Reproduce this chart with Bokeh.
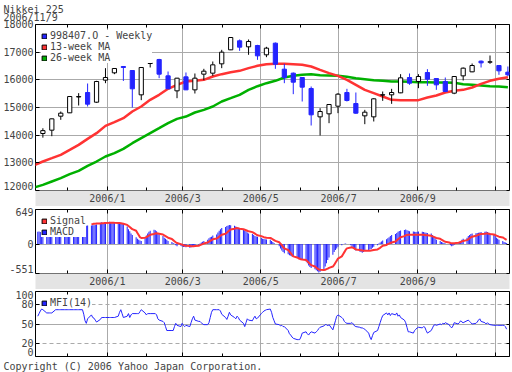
import pandas as pd
from bokeh.plotting import figure
from bokeh.layouts import column
from bokeh.models import (FixedTicker, Range1d, Legend, LegendItem, Title, CustomJSTickFormatter,
                          LinearAxis, Grid, GlobalInlineStyleSheet, ColumnDataSource)
from bokeh.embed import file_html
from bokeh.resources import INLINE

# ---------------- data ----------------
week_start = "2005-11-11"   # first weekly candle (week ending Friday)
candle_open = [14060, 14180, 14686, 14807, 15380, 15542, 15192, 15988, 16253, 16482,
               16337, 15458, 16590, 16735, 16144, 15602, 16108, 15638, 16205, 16241,
               16578, 17084, 17410, 17193, 17241, 16904, 17325, 16385, 16241, 16084,
               15687, 14662, 14771, 15048, 15542, 15144, 14698, 14662, 15450, 15458,
               15530, 16084, 15940, 16265, 16048, 15940, 15518, 16144, 16289, 16675,
               16640, 16518, 16277]
candle_high = [14250, 14600, 14855, 15410, 15518, 15867, 15964, 16422, 16422, 16490,
               16345, 16460, 16723, 16759, 16301, 16070, 16265, 16229, 16398, 16663,
               17084, 17540, 17458, 17458, 17265, 17193, 17349, 16578, 16265, 16090,
               15759, 14976, 15115, 15518, 15675, 15542, 14915, 15337, 15578, 15675,
               16205, 16229, 16205, 16385, 16055, 16084, 16125, 16446, 16590, 16699,
               16879, 16525, 16482]
candle_low = [13910, 13963, 14554, 14800, 15072, 15036, 15168, 15879, 16205, 15960,
              15000, 15265, 16446, 16060, 15670, 15337, 15630, 15506, 15988, 16144,
              16422, 17075, 17048, 16904, 16723, 16819, 16398, 15879, 15482, 15217,
              14349, 13988, 14433, 14795, 15217, 14771, 14397, 14494, 15241, 15132,
              15518, 15819, 15699, 15783, 15638, 15554, 15482, 15976, 16277, 16446,
              16578, 16181, 16132]
candle_close = [14164, 14590, 14795, 15397, 15395, 15120, 15940, 16084, 16410, 16446,
                15675, 16446, 16605, 16205, 15675, 16060, 15638, 16060, 16313, 16542,
                17000, 17530, 17181, 17386, 16867, 17145, 16566, 16084, 15915, 15735,
                14735, 14855, 15108, 15482, 15253, 14795, 14831, 15313, 15460, 15542,
                16072, 15879, 16120, 16024, 15819, 15578, 16120, 16422, 16518, 16614,
                16650, 16325, 16181]

ma_start = "2005-11-04"
ma13 = [12910, 13048, 13168, 13289, 13469, 13650, 13867, 14072, 14337, 14469, 14614,
        14855, 15036, 15277, 15458, 15675, 15819, 15940, 15964, 16000, 16120,
        16205, 16277, 16325, 16422, 16506, 16566, 16578, 16578, 16566, 16542,
        16482, 16361, 16241, 16144, 16000, 15819, 15638, 15518, 15397, 15277,
        15265, 15265, 15265, 15361, 15433, 15542, 15602, 15638, 15723, 15855,
        15964, 16036, 16096]
ma26 = [12108, 12204, 12325, 12445, 12590, 12710, 12891, 13048, 13228, 13349, 13505,
        13710, 13891, 14072, 14252, 14433, 14590, 14674, 14819, 14915, 15036,
        15217, 15337, 15458, 15638, 15770, 15879, 15964, 16084, 16144, 16181,
        16205, 16169, 16157, 16144, 16108, 16060, 16024, 15988, 15964, 15940,
        15940, 15928, 15915, 15915, 15903, 15903, 15891, 15843, 15819, 15795,
        15771, 15759, 15735]

day_first, day_last = "2005-11-07", "2006-11-09"
macd = [230, 235, 225, 215, 210, 205, 210, 215, 212, 210,
        215, 220, 210, 205, 212, 218, 222, 215, 210, 220,
        225, 300, 330, 340, 345, 345, 340, 343, 345, 350,
        350, 355, 352, 360, 370, 400, 410, 395, 405, 415,
        420, 410, 415, 405, 400, 405, 395, 400, 390, 380,
        330, 280, 240, 200, 170, 130, 100, 80, 70, 60,
        110, 160, 200, 230, 250, 270, 260, 240, 210, 180,
        150, 120, 100, 80, 60, 40, 20, 5, -20, -40,
        -30, -45, -55, -50, -60, -70, -60, -45, -30, -20,
        -10, 10, 30, 45, 60, 80, 110, 130, 140, 160,
        180, 220, 250, 280, 300, 320, 340, 350, 360, 355,
        345, 330, 320, 300, 290, 270, 250, 240, 220, 200,
        190, 170, 150, 145, 140, 120, 100, 95, 90, 85,
        80, 60, 40, 20, 0, -40, -80, -120, -150, -170,
        -190, -210, -220, -230, -240, -250, -260, -270, -290, -300,
        -320, -360, -400, -430, -450, -470, -490, -510, -530, -520,
        -480, -420, -360, -300, -250, -200, -150, -110, -80, -50,
        -20, 0, 5, 10, 0, -20, -50, -80, -100, -120,
        -140, -150, -160, -150, -130, -120, -100, -90, -70, -50,
        -20, 10, 30, 50, 70, 90, 110, 130, 150, 170,
        190, 210, 230, 245, 255, 265, 275, 260, 250, 240,
        235, 230, 225, 230, 235, 230, 225, 220, 215, 210,
        200, 170, 140, 110, 80, 60, 40, 30, 20, 10,
        0, -20, -40, -30, -10, 20, 40, 60, 80, 100,
        120, 150, 170, 190, 200, 205, 210, 215, 220, 225,
        230, 235, 225, 215, 200, 180, 150, 120, 100, 80,
        60, 40, 30, 20]
signal_first = "2005-12-19"
signal = [374, 376, 380, 383, 385, 388, 390, 393, 395, 398,
          400, 401, 402, 402, 400, 398, 395, 392, 388, 383,
          360, 340, 320, 300, 280, 250, 210, 170, 130, 115,
          120, 130, 145, 160, 175, 190, 200, 205, 200, 195,
          180, 165, 150, 135, 120, 95, 75, 55, 35, 20,
          0, -10, -20, -25, -30, -35, -40, -42, -40, -35,
          -30, -20, -10, 0, 10, 30, 45, 60, 75, 90,
          105, 120, 140, 160, 175, 195, 215, 235, 255, 275,
          290, 298, 300, 296, 290, 280, 270, 260, 250, 240,
          225, 210, 195, 180, 165, 150, 140, 130, 125, 120,
          115, 105, 90, 75, 60, 35, 10, -20, -50, -80,
          -110, -140, -170, -200, -230, -250, -265, -275, -285, -290,
          -300, -320, -345, -370, -395, -420, -440, -460, -475, -482,
          -485, -480, -470, -460, -445, -420, -390, -350, -310, -270,
          -230, -190, -150, -110, -80, -65, -60, -70, -85, -100,
          -110, -115, -120, -125, -125, -126, -124, -120, -115, -110,
          -100, -85, -70, -50, -30, -15, 0, 10, 20, 30,
          50, 70, 90, 110, 130, 150, 165, 170, 174, 175,
          176, 177, 177, 176, 175, 175, 174, 172, 168, 165,
          155, 145, 135, 125, 115, 100, 85, 70, 55, 45,
          30, 20, 15, 15, 18, 25, 30, 40, 50, 60,
          75, 90, 110, 125, 140, 155, 165, 175, 185, 190,
          195, 198, 200, 195, 190, 180, 170, 160, 150, 140,
          125, 110, 95, 80]
mfi = [62, 66, 70, 73, 72, 67, 67, 67, 67, 67,
       72, 72, 72, 72, 72, 72, 72, 72, 72, 72,
       72, 72, 72, 72, 72, 72, 65, 55, 51, 58,
       64, 60, 59, 56, 53, 57, 60, 60, 60, 60,
       60, 60, 60, 60, 60, 62, 68, 72, 66, 60,
       62, 66, 60, 64, 66, 66, 66, 66, 69, 72,
       67, 64, 66, 66, 66, 66, 66, 64, 58, 56,
       54, 52, 46, 40, 40, 40, 40, 46, 51, 48,
       46, 51, 48, 46, 48, 46, 52, 58, 62, 56,
       54, 54, 52, 50, 49, 49, 52, 60, 68, 72,
       72, 72, 72, 70, 65, 60, 57, 62, 68, 64,
       60, 58, 62, 60, 56, 51, 46, 52, 58, 56,
       55, 59, 62, 58, 59, 66, 68, 70, 71, 72,
       73, 68, 60, 55, 50, 49, 47, 48, 46, 46,
       40, 35, 33, 30, 28, 26, 26, 26, 30, 36,
       38, 35, 33, 36, 38, 36, 38, 40, 43, 45,
       47, 49, 49, 47, 49, 41, 48, 55, 62, 64,
       60, 58, 54, 52, 51, 51, 52, 50, 47, 46,
       45, 44, 44, 43, 42, 36, 30, 26, 32, 37,
       40, 46, 52, 58, 63, 67, 64, 67, 63, 66,
       64, 67, 62, 64, 60, 56, 52, 45, 38, 38,
       36, 40, 42, 44, 45, 44, 46, 45, 40, 36,
       40, 44, 48, 49, 48, 50, 49, 51, 50, 52,
       49, 46, 44, 47, 52, 50, 52, 55, 53, 52,
       55, 56, 54, 52, 50, 51, 53, 56, 58, 54,
       52, 50, 52, 50, 49, 48, 48, 48, 48, 48,
       48, 48, 46, 42]

price_ticks = [12000, 13000, 14000, 15000, 16000, 17000, 18000]
macd_ticks = [-551, 0, 649]
mfi_ticks = [0, 20, 50, 80, 100]
mfi_dashed = [20, 80]
mfi_solid = [50]
month_ticks = ["2006-01-01", "2006-03-01", "2006-05-01", "2006-07-01", "2006-09-01", "2006-11-01"]
month_labels = ["2006/1", "2006/3", "2006/5", "2006/7", "2006/9", ""]
minor_months = ["2005-12-01", "2006-02-01", "2006-04-01", "2006-06-01", "2006-08-01", "2006-10-01"]

# ---------------- styling ----------------
FONT = "DejaVu Sans Mono"
FS = "10px"
BLUE = "#2424ff"
RED = "#ff3333"
GREEN = "#00b000"
GRID = "#aaaaaa"
BAND = "#e4e4e4"
NAN = float("nan")


def ms(t):
    return pd.Timestamp(t).value / 1e6


noon = pd.Timedelta(hours=12)
week_x = pd.date_range(week_start, periods=len(candle_open), freq="7D") + noon
ma_x = pd.date_range(ma_start, periods=len(ma13), freq="7D") + noon
day_x = pd.bdate_range(day_first, day_last) + noon
sig_x = pd.bdate_range(signal_first, day_last) + noon

t0 = pd.Timestamp("2006-01-01")
xr = Range1d(start=ms(t0 - pd.Timedelta(days=56.28)), end=ms(t0 + pd.Timedelta(days=314.76)))
major_ms = [ms(t) for t in month_ticks]
minor_ms = [ms(t) for t in minor_months]
blank = CustomJSTickFormatter(code="return ''")


def make_fig(yr, fh, top, bottom):
    return figure(x_range=xr, y_range=yr, x_axis_type=None, y_axis_type=None,
                  frame_width=474, frame_height=fh, min_border_left=33, min_border_right=4,
                  min_border_top=top, min_border_bottom=bottom,
                  output_backend="svg", toolbar_location=None,
                  outline_line_color="black", outline_line_width=1,
                  background_fill_color="white", border_fill_color="white")


def tick_only_axis(ticker, tick_in, minor_in=0):
    return LinearAxis(ticker=ticker, axis_line_color=None, formatter=blank,
                      major_tick_in=tick_in, major_tick_out=0,
                      minor_tick_in=minor_in, minor_tick_out=0, major_label_standoff=0)


def add_x_axes(p, band):
    p.add_layout(tick_only_axis(FixedTicker(ticks=major_ms, minor_ticks=minor_ms), 4, 3), "above")
    if band:
        bot = LinearAxis(ticker=FixedTicker(ticks=major_ms, minor_ticks=minor_ms),
                         axis_line_color=None, major_tick_in=4, major_tick_out=0,
                         minor_tick_in=3, minor_tick_out=0,
                         major_label_text_font=FONT, major_label_text_font_size=FS,
                         major_label_standoff=2,
                         major_label_overrides=dict(zip(major_ms, month_labels)))
        bot.background_fill_color = BAND
        p.add_layout(bot, "below")
        edge = LinearAxis(ticker=FixedTicker(ticks=[]), axis_line_color="black", formatter=blank,
                          major_tick_in=0, major_tick_out=0, minor_tick_in=0, minor_tick_out=0,
                          major_label_standoff=0)
        p.add_layout(edge, "below")
    else:
        p.add_layout(tick_only_axis(FixedTicker(ticks=major_ms, minor_ticks=minor_ms), 4, 3), "below")
    p.add_layout(Grid(dimension=0, ticker=FixedTicker(ticks=major_ms), grid_line_color=GRID))


def add_y_axes(p, ticks):
    # the bottom label is nudged up inside the frame, as in the reference
    overrides = {ticks[0]: str(ticks[0]) + "\n"}
    left = LinearAxis(ticker=FixedTicker(ticks=ticks), axis_line_color=None,
                      major_tick_in=4, major_tick_out=0, minor_tick_in=0, minor_tick_out=0,
                      major_label_text_font=FONT, major_label_text_font_size=FS,
                      major_label_text_line_height=0.8,
                      major_label_standoff=2, major_label_overrides=overrides)
    p.add_layout(left, "left")
    p.add_layout(tick_only_axis(FixedTicker(ticks=ticks), 3), "right")


def make_legend(p, entries):
    items = []
    for label, color in entries:
        r = p.quad(left=[NAN], right=[NAN], top=[NAN], bottom=[NAN],
                   fill_color=color, line_color="black")
        items.append(LegendItem(label=label, renderers=[r]))
    leg = Legend(items=items, location="top_left", margin=6, padding=0, spacing=0,
                 glyph_width=6, glyph_height=6, label_height=10, label_standoff=3,
                 label_text_font=FONT, label_text_font_size=FS,
                 border_line_color=None, background_fill_color="white", background_fill_alpha=1)
    p.add_layout(leg)


# ---------------- price panel ----------------
p1 = make_fig(Range1d(12000, 18000), 166, 23, 0)
add_x_axes(p1, True)
add_y_axes(p1, price_ticks)
p1.add_layout(Grid(dimension=1, ticker=FixedTicker(ticks=price_ticks), grid_line_color=GRID))
p1.add_layout(Title(text="Nikkei 225\n2006/11/9", align="left", offset=-32, standoff=2,
                    text_font=FONT, text_font_size=FS, text_font_style="normal",
                    text_line_height=0.8), "above")

up = [c >= o for o, c in zip(candle_open, candle_close)]
doji = [abs(c - o) < 20 for o, c in zip(candle_open, candle_close)]
src = ColumnDataSource(dict(
    x=week_x, o=candle_open, h=candle_high, l=candle_low, c=candle_close,
    top=[max(o, c) for o, c in zip(candle_open, candle_close)],
    bottom=[min(o, c) for o, c in zip(candle_open, candle_close)],
    fill=["white" if (u or d) else BLUE for u, d in zip(up, doji)],
    line=["black" if (u or d) else BLUE for u, d in zip(up, doji)],
))
p1.line(ma_x, ma26, color=GREEN, line_width=2.5)
p1.line(ma_x, ma13, color=RED, line_width=2.5)
p1.segment(x0="x", y0="l", x1="x", y1="h", line_color="line", line_width=1, source=src)
p1.vbar(x="x", width=3.3 * 86400000, top="top", bottom="bottom",
        fill_color="fill", line_color="line", line_width=1, source=src)
make_legend(p1, [("998407.O - Weekly", BLUE), ("13-week MA", RED), ("26-week MA", GREEN)])

# ---------------- MACD panel ----------------
p2 = make_fig(Range1d(-551, 649), 64, 3, 0)
add_x_axes(p2, True)
add_y_axes(p2, macd_ticks)
p2.add_layout(Grid(dimension=1, ticker=FixedTicker(ticks=[0]), grid_line_color=GRID))
p2.vbar(x=day_x, width=0.8 * 86400000, top=macd, bottom=0, fill_color=BLUE, line_color=None)
p2.line(sig_x, signal, color=RED, line_width=2)
make_legend(p2, [("Signal", RED), ("MACD", BLUE)])

# ---------------- MFI panel ----------------
p3 = make_fig(Range1d(0, 100), 65, 2, 0)
add_x_axes(p3, False)
add_y_axes(p3, mfi_ticks)
p3.add_layout(Grid(dimension=1, ticker=FixedTicker(ticks=mfi_solid), grid_line_color=GRID))
p3.add_layout(Grid(dimension=1, ticker=FixedTicker(ticks=mfi_dashed), grid_line_color=GRID,
                   grid_line_dash="4 3"))
p3.line(day_x, mfi, color=BLUE, line_width=1)
make_legend(p3, [("MFI(14)", BLUE)])
p3.add_layout(Title(text="Copyright (C) 2006 Yahoo Japan Corporation.", align="left",
                    offset=-32, standoff=4, text_font=FONT, text_font_size=FS,
                    text_font_style="normal"), "below")

layout = column(p1, p2, p3, spacing=0)
layout.stylesheets = [GlobalInlineStyleSheet(css="body { margin: 0; }")]

open("out.html", "w").write(file_html(layout, INLINE))
